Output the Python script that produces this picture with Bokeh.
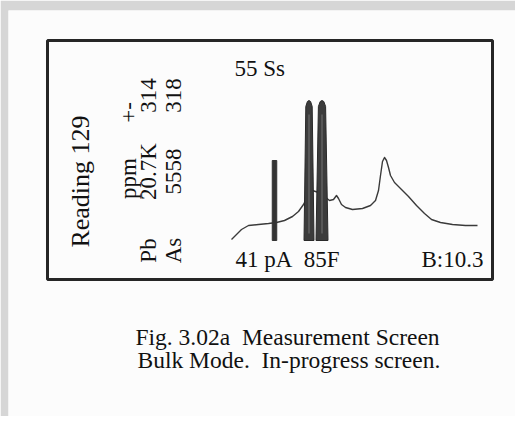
import math
from bokeh.plotting import figure
from bokeh.models import Range1d, Label, BoxAnnotation
from bokeh.embed import file_html
from bokeh.resources import INLINE

# ---------------- data ----------------
# background spectrum (energy in keV, counts)
energy_kev = [0.1, 0.6, 1.1, 1.8, 2.8, 3.8, 4.6, 5.4, 6.2, 6.8, 7.3, 7.7, 8.2, 8.8,
              9.4, 9.9, 10.3, 10.6, 10.8, 11.1, 11.5, 12.2, 13.2, 14.0, 14.5, 14.8,
              15.0, 15.2, 15.4, 15.6, 15.8, 16.0, 16.4, 17.0, 17.8, 18.6, 19.4, 20.1,
              21.0, 22.2, 23.5, 24.7]
counts = [1, 6, 11, 15, 16, 17, 18, 20, 24, 29, 36, 44, 50, 48,
          44, 40, 41, 45, 42, 36, 33, 31, 32, 35, 40, 50,
          65, 79, 83, 80, 73, 65, 58, 52, 44, 35, 27, 21,
          18, 16, 15, 15]

# narrow marker line
marker_energy = [4.4]
marker_height = [80]

# filled region-of-interest peaks
peak_energy = [7.85, 9.15]
peak_height = [140, 140]
peak_base_halfwidth = [0.5, 0.6]
peak_top_halfwidth = [0.32, 0.36]

# texts
top_text = "55 Ss"
reading_text = "Reading 129"
header_items = ["ppm", "+-"]
element_names = ["Pb", "As"]
ppm_values = ["20.7K", "5558"]
err_values = ["314", "318"]
footer_left = "41 pA\u00a0 85F"
footer_right = "B:10.3"
caption_lines = ["Fig. 3.02a\u00a0 Measurement Screen", "Bulk Mode.\u00a0 In-progress screen."]

# ---------------- layout helpers (image pixel -> data) ----------------
FIG_W, FIG_H = 515, 416
BORDER_L, BORDER_R, BORDER_T, BORDER_B = 8, 0, 10, 0
FRAME_L = BORDER_L
FRAME_R = FIG_W - BORDER_R
FRAME_T = BORDER_T
FRAME_B = FIG_H - BORDER_B
KEV_PER_PX = 0.1
ZERO_KEV_PX = 230
ZERO_COUNT_PY = 240


def X(px):
    return (px - ZERO_KEV_PX) * KEV_PER_PX


def Y(py):
    return ZERO_COUNT_PY - py


TEXT = "#111111"
FONT = "Liberation Serif"

p = figure(width=FIG_W, height=FIG_H,
           x_range=Range1d(X(FRAME_L), X(FRAME_R)),
           y_range=Range1d(Y(FRAME_B), Y(FRAME_T)),
           output_backend="svg", toolbar_location=None,
           x_axis_location=None, y_axis_location=None,
           min_border_left=BORDER_L, min_border_right=BORDER_R,
           min_border_top=BORDER_T, min_border_bottom=BORDER_B,
           border_fill_color="#d6d6d6", background_fill_color="#fcfcfc",
           outline_line_color=None)
p.grid.grid_line_color = None

# screen box
p.add_layout(BoxAnnotation(left=X(47), right=X(492), top=Y(40), bottom=Y(279),
                           fill_color=None, line_color="#262626", line_alpha=1.0,
                           line_width=3))

# spectrum
p.line(energy_kev, counts, line_color="#3a3a3a", line_width=1.4, line_join="round")

# marker line
p.vbar(x=marker_energy, top=marker_height, bottom=0, width=0.45,
       fill_color="#333333", line_color="#333333")

# ROI peaks
xs, ys = [], []
for c, h, bw, tw in zip(peak_energy, peak_height, peak_base_halfwidth, peak_top_halfwidth):
    xs.append([c - bw, c - tw, c - tw * 0.5, c, c + tw * 0.5, c + tw, c + bw])
    ys.append([0, h - 6, h - 1, h, h - 1, h - 6, 0])
p.patches(xs, ys, fill_color="#3c3c3c", line_color="#2a2a2a", line_width=1)
# lighter streak inside each peak
p.segment(x0=peak_energy, y0=[h * 0.05 for h in peak_height],
          x1=peak_energy, y1=[h * 0.9 for h in peak_height],
          line_color="#6a6a6a", line_width=1.2)


def lab(px, py, text, size, align="left", baseline="alphabetic", angle=0.0):
    p.add_layout(Label(x=X(px), y=Y(py), text=text, text_font=FONT,
                       text_font_size=f"{size}px", text_color=TEXT,
                       text_align=align, text_baseline=baseline, angle=angle))


# horizontal texts
lab(234, 68, top_text, 23)
lab(235, 259, footer_left, 23)
lab(483, 259, footer_right, 23, align="right")
lab(135, 336, caption_lines[0], 23.5)
lab(137, 359, caption_lines[1], 23.5)

# rotated texts
up = math.pi / 2
lab(80, 181, reading_text, 26, align="center", baseline="middle", angle=up)
col_x = [128, 148, 173]
lab(col_x[0], 178, header_items[0], 23, align="center", baseline="middle", angle=up)
lab(col_x[0], 112, header_items[1], 23, align="center", baseline="middle", angle=up)
for i in range(2):
    cx = col_x[i + 1]
    lab(cx, 250, element_names[i], 23, align="center", baseline="middle", angle=up)
    lab(cx, 171, ppm_values[i], 23, align="center", baseline="middle", angle=up)
    lab(cx, 95, err_values[i], 23, align="center", baseline="middle", angle=up)

open("out.html", "w").write(file_html(p, INLINE))
